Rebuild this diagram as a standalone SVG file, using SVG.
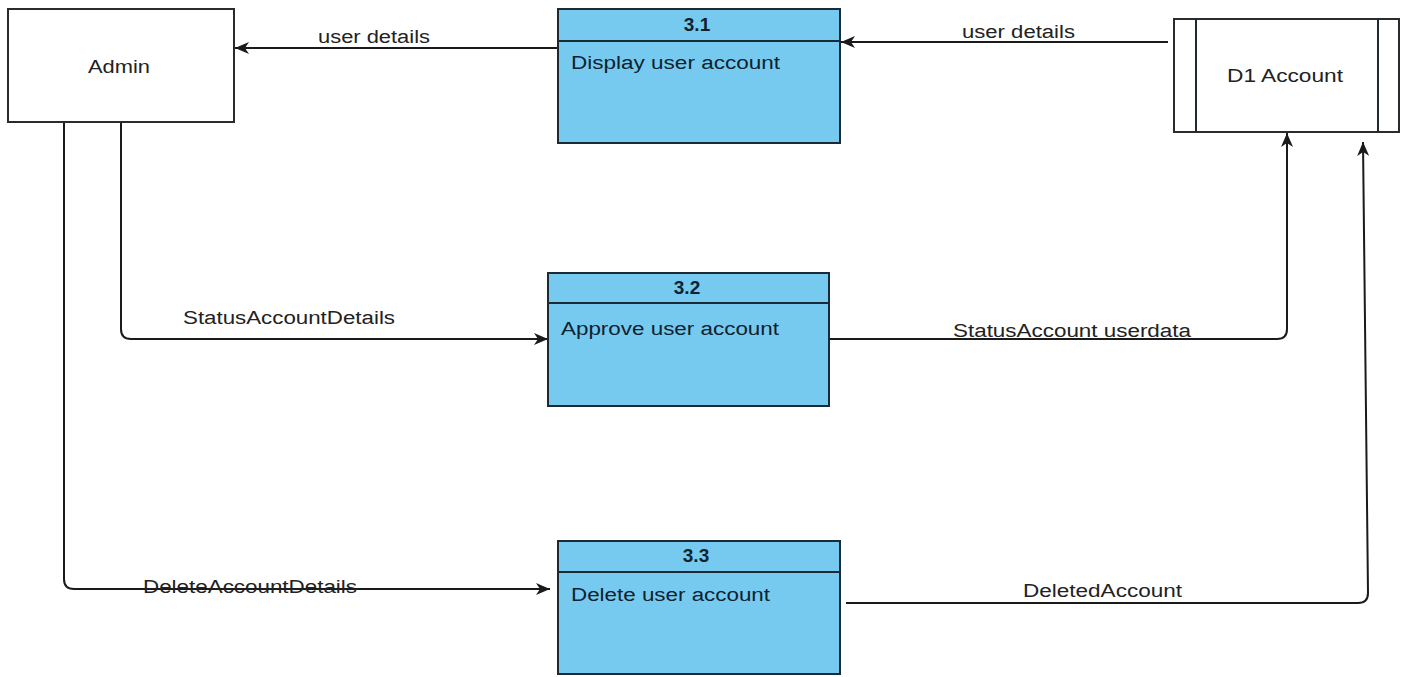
<svg xmlns="http://www.w3.org/2000/svg" width="1405" height="677" viewBox="0 0 1405 677">
  <style>
    .ext { fill: #ffffff; stroke: #2b2b2b; stroke-width: 2; }
    .proc { fill: #76caef; stroke: #1c2a36; stroke-width: 2; }
    .sep { stroke: #1c2a36; stroke-width: 2; fill: none; }
    .flow { fill: none; stroke: #1a1a1a; stroke-width: 2; marker-end: url(#arrow); }
    .lbl { font-family: "Liberation Sans", Arial, sans-serif; font-size: 18px; fill: #222222; }
    .name { font-family: "Liberation Sans", Arial, sans-serif; font-size: 18px; fill: #0f2230; }
    .num { font-family: "Liberation Sans", Arial, sans-serif; font-size: 19px; font-weight: bold; fill: #0f2230; text-anchor: middle; }
  </style>
  <defs>
    <marker id="arrow" viewBox="0 0 14 12" refX="14" refY="6" markerWidth="14" markerHeight="12" markerUnits="userSpaceOnUse" orient="auto">
      <path d="M0,0 L14,6 L0,12 L4,6 Z" fill="#1a1a1a"/>
    </marker>
  </defs>
  <rect width="1405" height="677" fill="#ffffff"/>

  <!-- data flows -->
  <g id="connectors">
    <path class="flow" d="M558,48 L235,48"/>
    <path class="flow" d="M1168,42 L841,42"/>
    <path class="flow" d="M121,122 V329 Q121,339 131,339 H548"/>
    <path class="flow" d="M829,339 H1277 Q1287,339 1287,329 V133"/>
    <path class="flow" d="M64,122 V579 Q64,589 74,589 H550"/>
    <path class="flow" d="M846,603 H1358 Q1368,603 1368,593 L1363,142"/>
    <text class="lbl" x="318" y="43" textLength="112" lengthAdjust="spacingAndGlyphs">user details</text>
    <text class="lbl" x="962" y="38" textLength="113" lengthAdjust="spacingAndGlyphs">user details</text>
    <text class="lbl" x="183" y="324" textLength="212" lengthAdjust="spacingAndGlyphs">StatusAccountDetails</text>
    <text class="lbl" x="953" y="337" textLength="238" lengthAdjust="spacingAndGlyphs">StatusAccount userdata</text>
    <text class="lbl" x="143" y="593" textLength="214" lengthAdjust="spacingAndGlyphs">DeleteAccountDetails</text>
    <text class="lbl" x="1023" y="597" textLength="159" lengthAdjust="spacingAndGlyphs">DeletedAccount</text>
  </g>

  <!-- external entity -->
  <g id="admin">
    <rect class="ext" x="8" y="9" width="226" height="113"/>
    <text class="lbl" x="88" y="73" font-size="20" textLength="62" lengthAdjust="spacingAndGlyphs">Admin</text>
  </g>

  <!-- processes -->
  <g id="p31">
    <rect class="proc" x="558" y="9" width="282" height="134"/>
    <line class="sep" x1="558" y1="41" x2="840" y2="41"/>
    <text class="num" x="697" y="31">3.1</text>
    <text class="name" x="571" y="69" textLength="209" lengthAdjust="spacingAndGlyphs">Display user account</text>
  </g>
  <g id="p32">
    <rect class="proc" x="548" y="273" width="281" height="133"/>
    <line class="sep" x1="548" y1="303" x2="829" y2="303"/>
    <text class="num" x="687" y="294">3.2</text>
    <text class="name" x="561" y="335" textLength="218" lengthAdjust="spacingAndGlyphs">Approve user account</text>
  </g>
  <g id="p33">
    <rect class="proc" x="558" y="541" width="282" height="133"/>
    <line class="sep" x1="558" y1="572" x2="840" y2="572"/>
    <text class="num" x="696" y="562">3.3</text>
    <text class="name" x="571" y="601" textLength="199" lengthAdjust="spacingAndGlyphs">Delete user account</text>
  </g>

  <!-- data store -->
  <g id="d1">
    <rect class="ext" x="1174" y="19" width="225" height="113"/>
    <line class="sep" stroke="#2b2b2b" x1="1196" y1="19" x2="1196" y2="132"/>
    <line class="sep" stroke="#2b2b2b" x1="1378" y1="19" x2="1378" y2="132"/>
    <text class="lbl" x="1227" y="82" textLength="116" lengthAdjust="spacingAndGlyphs">D1 Account</text>
  </g>
</svg>
